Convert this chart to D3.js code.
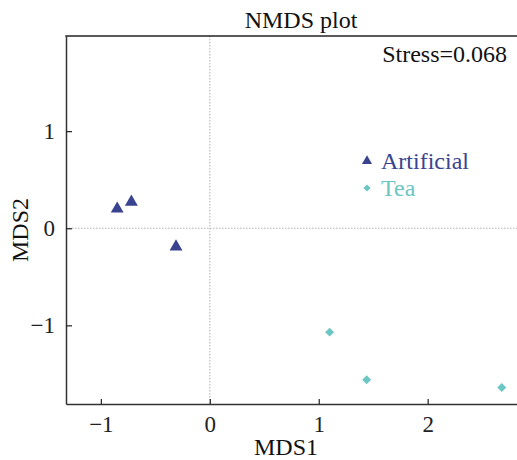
<!DOCTYPE html>
<html>
<head>
<meta charset="utf-8">
<script src="https://cdn.jsdelivr.net/npm/d3@7"></script>
<style>
  body { margin: 0; background: #fff; }
</style>
</head>
<body>
<svg id="chart" width="517" height="460"></svg>
<script>
// Data
var groups = ["Artificial", "Tea"];
var groupColors = ["#3a438f", "#6cc6c4"];
var artificialX = [-0.85, -0.72, -0.31];
var artificialY = [0.20, 0.27, -0.19];
var teaX = [1.10, 1.44, 2.68];
var teaY = [-1.07, -1.56, -1.64];
var xTicks = [-1, 0, 1, 2];
var yTicks = [-1, 0, 1];
var stressLabel = "Stress=0.068";

var points = [];
artificialX.forEach(function(x, i) { points.push({x: x, y: artificialY[i], group: 0}); });
teaX.forEach(function(x, i) { points.push({x: x, y: teaY[i], group: 1}); });

const serif = "'Liberation Serif'";
const svg = d3.select("#chart");

// Plot area
const plotLeft = 66, plotTop = 36, plotBottom = 404, plotRight = 517;

const xscale = d3.scaleLinear().domain([-1.32, 2.82]).range([plotLeft, plotRight]);
const yscale = d3.scaleLinear().domain([-1.81, 1.98]).range([plotBottom, plotTop]);

// reference lines at 0
svg.append("line")
  .attr("x1", xscale(0)).attr("x2", xscale(0))
  .attr("y1", plotTop).attr("y2", plotBottom)
  .attr("stroke", "#b5b0b0").attr("stroke-width", 1)
  .attr("stroke-dasharray", "1.5,1.5");
svg.append("line")
  .attr("x1", plotLeft).attr("x2", plotRight)
  .attr("y1", yscale(0)).attr("y2", yscale(0))
  .attr("stroke", "#b5b0b0").attr("stroke-width", 1)
  .attr("stroke-dasharray", "1.5,1.5");

// axes (inward ticks)
const fmt = function(d) { return d < 0 ? "\u2212" + Math.abs(d) : d; };
const xaxis = d3.axisBottom(xscale).tickValues(xTicks)
  .tickSizeInner(-5).tickSizeOuter(0).tickPadding(10).tickFormat(fmt);
const yaxis = d3.axisLeft(yscale).tickValues(yTicks)
  .tickSizeInner(-6).tickSizeOuter(0).tickPadding(11).tickFormat(fmt);

const gx = svg.append("g").attr("transform", `translate(0,${plotBottom})`).call(xaxis);
const gy = svg.append("g").attr("transform", `translate(${plotLeft},0)`).call(yaxis);

[gx, gy].forEach(function(g) {
  g.attr("font-family", null).attr("font-size", null);
  g.select(".domain").attr("stroke", "#333").attr("stroke-width", 1.5);
  g.selectAll(".tick line").attr("stroke", "#222").attr("stroke-width", 1.2);
  g.selectAll(".tick text").attr("fill", "#222")
    .style("font-size", "23px").style("font-family", serif);
});
gx.selectAll(".tick text").attr("dy", "0.8em");

// top border
svg.append("line")
  .attr("x1", plotLeft - 0.75).attr("x2", plotRight)
  .attr("y1", plotTop).attr("y2", plotTop)
  .attr("stroke", "#222").attr("stroke-width", 1.5);

// points
const tri = d3.symbol().type(d3.symbolTriangle).size(72);
const dia = d3.symbol().type(d3.symbolSquare).size(40);

svg.selectAll(".pt")
  .data(points)
  .join("path")
  .attr("class", "pt")
  .attr("d", function(d) { return d.group === 0 ? tri() : dia(); })
  .attr("transform", function(d) {
    var t = `translate(${xscale(d.x)},${yscale(d.y)})`;
    return d.group === 0 ? t : t + " rotate(45)";
  })
  .attr("fill", function(d) { return groupColors[d.group]; });

// legend
const legend = svg.append("g").attr("transform", "translate(367,161)");
groups.forEach(function(name, i) {
  var row = legend.append("g").attr("transform", `translate(0,${i * 27})`);
  row.append("path")
    .attr("d", i === 0 ? d3.symbol().type(d3.symbolTriangle).size(44)() : d3.symbol().type(d3.symbolSquare).size(26)())
    .attr("transform", i === 0 ? "" : "rotate(45)")
    .attr("fill", groupColors[i]);
  row.append("text")
    .attr("x", 14).attr("y", 8)
    .attr("fill", groupColors[i])
    .style("font-family", serif)
    .style("font-size", "24px")
    .text(name);
});

// texts
function label(x, y, anchor, size, txt, transform) {
  var t = svg.append("text")
    .attr("text-anchor", anchor)
    .attr("fill", "#111")
    .style("font-family", serif)
    .style("font-size", size)
    .text(txt);
  if (transform) t.attr("transform", transform);
  else t.attr("x", x).attr("y", y);
  return t;
}

label(301, 28, "middle", "24px", "NMDS plot");
label(507, 62, "end", "24px", stressLabel);
label(286, 455, "middle", "24px", "MDS1");
label(0, 0, "middle", "24px", "MDS2", "translate(28,230) rotate(-90)");
</script>
</body>
</html>
